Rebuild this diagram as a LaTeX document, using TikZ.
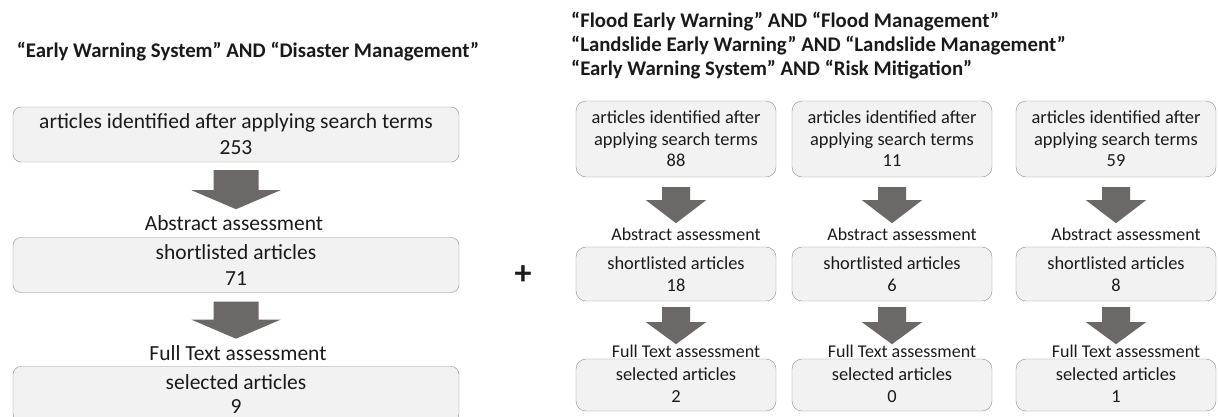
\documentclass[tikz,border=0pt]{standalone}
\usepackage{fontspec}
\setmainfont{Carlito}
\usetikzlibrary{calc}

\definecolor{boxfill}{HTML}{F2F2F2}
\definecolor{boxline}{HTML}{8C8C8C}
\definecolor{arrowfill}{HTML}{6B6867}
\definecolor{textcol}{HTML}{1A1A1A}

% block arrow below a box: node, gap, half shaft, half head, shaft length, head length
\newcommand{\flowarrow}[6]{%
  \fill[arrowfill] ($(#1.south)+(-#3,#2)$) -- ++(0,#5) -- ++({#3-#4},0)
    -- ++(#4,#6) -- ++(#4,-#6) -- ++({#3-#4},0) -- ++(0,-#5) -- cycle;}

\begin{document}
\begin{tikzpicture}
        [x=1pt,y=-1pt,text=textcol,
         bigbox/.style={draw=boxline, fill=boxfill, rounded corners=8pt, align=center,
           minimum width=446pt, minimum height=55pt, inner sep=0pt,
           font=\fontsize{21.5}{26}\selectfont},
         smallbox/.style={draw=boxline, fill=boxfill, rounded corners=10pt, align=center,
           minimum width=200pt, inner sep=0pt, font=\fontsize{18.4}{21.5}\selectfont},
         biglbl/.style={inner sep=0pt, font=\fontsize{21.5}{26}\selectfont},
         smalllbl/.style={inner sep=0pt, font=\fontsize{18}{21.5}\selectfont},
         query/.style={inner sep=0pt, align=left, font=\bfseries\fontsize{20.8}{24}\selectfont}]
        \clip (0,0) rectangle (1218,416);
        %\draw[help lines] (0,0) grid[step=50pt] (1218,416);
        % single query on the left
        \node[query] (ltitle) at (248,52) {“Early Warning System” AND “Disaster Management”};
        \node[bigbox] (l1) at (236,134.5) {articles identified after applying search terms\\253};
        \node[biglbl] (l2lbl) at (234,223) {Abstract assessment};
        \node[bigbox] (l2) at (236,265) {shortlisted articles\\71};
        \node[biglbl] (l3lbl) at (238,353) {Full Text assessment};
        \node[bigbox, font=\fontsize{21.5}{24}\selectfont] (l3) at (236,394) {selected articles\\9};
        \flowarrow{l1}{8}{22.5}{44.5}{20}{19}
        \flowarrow{l2}{9}{22.5}{44.5}{18}{19}
        \node[font=\bfseries\fontsize{34}{34}\selectfont, inner sep=0pt] (plus) at (523,275) {+};
        % three queries on the right
        \node[query, anchor=north west] (rtitle) at (571,12)
          {“Flood Early Warning” AND “Flood Management”\\
           “Landslide Early Warning” AND “Landslide Management”\\
           “Early Warning System” AND “Risk Mitigation”};
        \foreach \cx/\nm/\na/\nb/\nc in {676/a/88/18/2, 892/b/11/6/0, 1116/c/59/8/1} {
          \node[smallbox, minimum height=76pt] (\nm1) at (\cx,139)
            {articles identified after\\applying search terms\\\na};
          \node[smalllbl] (\nm2lbl) at (\cx+10,234) {Abstract assessment};
          \node[smallbox, minimum height=54pt] (\nm2) at (\cx,274) {shortlisted articles\\\nb};
          \node[smalllbl] (\nm3lbl) at (\cx+10,351) {Full Text assessment};
          \node[smallbox, minimum height=52pt] (\nm3) at (\cx,385) {selected articles\\\nc};
          \flowarrow{\nm1}{10}{14}{30}{13}{23}
          \flowarrow{\nm2}{6}{14}{30}{15}{22}
        }
\end{tikzpicture}
\end{document}
